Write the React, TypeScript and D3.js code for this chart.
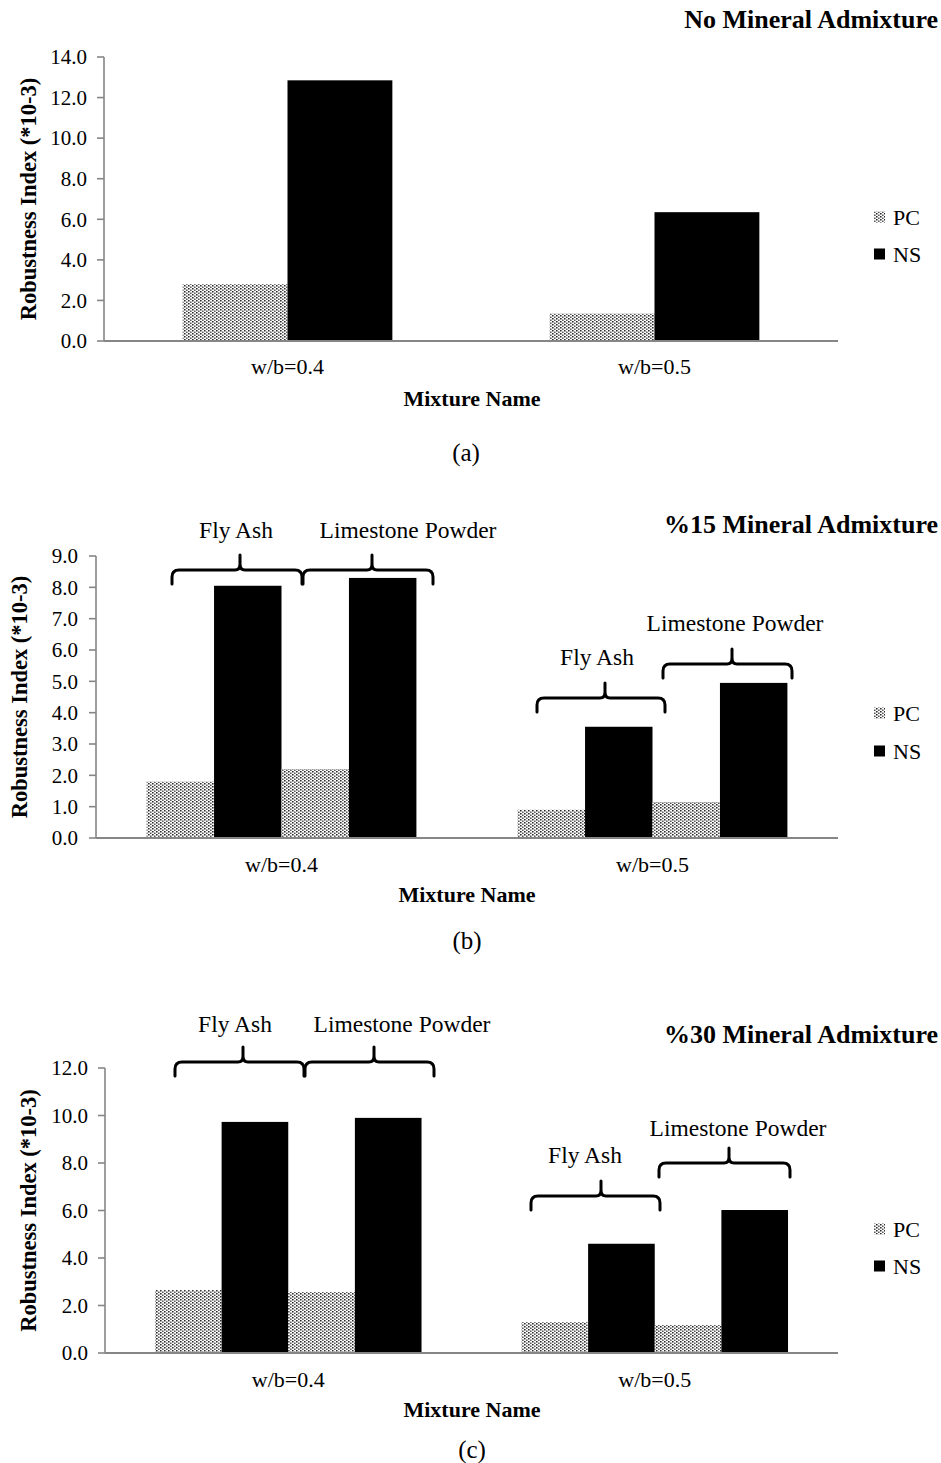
import React from "react";
import * as d3 from "d3";

// mixtures on the x axis
const groups = ["w/b=0.4", "w/b=0.5"];
const legendNames = ["PC", "NS"];

// (a) no mineral admixture
const pcA = [2.8, 1.35];
const nsA = [12.85, 6.35];
const ticksA = [0, 2, 4, 6, 8, 10, 12, 14];

// (b) 15% mineral admixture
const pcFlyAshB = [1.8, 0.9];
const nsFlyAshB = [8.05, 3.55];
const pcLimeB = [2.2, 1.15];
const nsLimeB = [8.3, 4.95];
const ticksB = [0, 1, 2, 3, 4, 5, 6, 7, 8, 9];

// (c) 30% mineral admixture
const pcFlyAshC = [2.65, 1.3];
const nsFlyAshC = [9.73, 4.6];
const pcLimeC = [2.57, 1.18];
const nsLimeC = [9.9, 6.02];
const ticksC = [0, 2, 4, 6, 8, 10, 12];

const FONT = "'Liberation Serif', 'Times New Roman', serif";
const AXIS = "#868686";

type Series = { key: string; kind: string; values: number[] };
type Brace = { x0: number; x1: number; tip: number; y: number; label: string; lx: number; ly: number };

function bracePath(b: Brace) {
  const d = 14;
  const r = 7;
  return [
    `M${b.x0},${b.y + d}`,
    `L${b.x0},${b.y + r}`,
    `Q${b.x0},${b.y} ${b.x0 + r},${b.y}`,
    `L${b.tip - 5},${b.y}`,
    `Q${b.tip},${b.y} ${b.tip},${b.y - 6}`,
    `L${b.tip},${b.y - 15}`,
    `M${b.tip},${b.y - 6}`,
    `Q${b.tip},${b.y} ${b.tip + 5},${b.y}`,
    `L${b.x1 - r},${b.y}`,
    `Q${b.x1},${b.y} ${b.x1},${b.y + r}`,
    `L${b.x1},${b.y + d}`,
  ].join(" ");
}

function Panel(props: {
  left: number; right: number; top: number; bottom: number;
  ticks: number[]; series: Series[]; title: string; titleY: number;
  letter: string; letterX: number; letterY: number;
  xLabelY: number; nameX: number; nameY: number;
  legendY: number[]; labelRight: number; yTitleX: number;
  braces: Brace[];
}) {
  const { left, right, top, bottom, ticks, series } = props;
  const yMax = ticks[ticks.length - 1];
  const y = d3.scaleLinear().domain([0, yMax]).range([bottom, top]);
  const x = d3.scaleBand<string>().domain(groups).range([left, right]).padding(0);
  const sub = d3
    .scaleBand<string>()
    .domain(series.map((s) => s.key))
    .range([0, x.bandwidth()])
    .paddingInner(0)
    .paddingOuter(0.75);
  const fmt = d3.format(".1f");

  return (
    <g>
      <text x={938} y={props.titleY} textAnchor="end" fontSize={26} fontWeight="bold" fontFamily={FONT}>
        {props.title}
      </text>
      {/* bars */}
      {groups.map((g, gi) =>
        series.map((s) => (
          <rect
            key={g + s.key}
            x={(x(g) as number) + (sub(s.key) as number)}
            y={y(s.values[gi])}
            width={sub.bandwidth()}
            height={bottom - y(s.values[gi])}
            fill={s.kind === "PC" ? "url(#dots)" : "#000"}
          />
        ))
      )}
      {/* y axis */}
      <line x1={left} x2={left} y1={top} y2={bottom} stroke={AXIS} strokeWidth={1.6} />
      {ticks.map((t) => (
        <g key={t}>
          <line x1={left - 7} x2={left} y1={y(t)} y2={y(t)} stroke={AXIS} strokeWidth={1.6} />
          <text x={props.labelRight} y={y(t)} dy="0.35em" textAnchor="end" fontSize={21} fontFamily={FONT}>
            {fmt(t)}
          </text>
        </g>
      ))}
      <line x1={left} x2={right} y1={bottom} y2={bottom} stroke={AXIS} strokeWidth={1.8} />
      {groups.map((g) => (
        <text
          key={g}
          x={(x(g) as number) + x.bandwidth() / 2}
          y={props.xLabelY}
          textAnchor="middle"
          fontSize={22}
          fontFamily={FONT}
        >
          {g}
        </text>
      ))}
      <text x={props.nameX} y={props.nameY} textAnchor="middle" fontSize={22} fontWeight="bold" fontFamily={FONT}>
        Mixture Name
      </text>
      <text
        transform={`translate(${props.yTitleX},${(top + bottom) / 2}) rotate(-90)`}
        textAnchor="middle"
        fontSize={22.5}
        fontWeight="bold"
        fontFamily={FONT}
      >
        Robustness Index (*10-3)
      </text>
      {/* legend */}
      {legendNames.map((n, i) => (
        <g key={n}>
          <rect
            x={874}
            y={props.legendY[i] - 5.5}
            width={11}
            height={11}
            fill={n === "PC" ? "url(#dots)" : "#000"}
          />
          <text x={893} y={props.legendY[i]} dy="0.35em" fontSize={22} fontFamily={FONT}>
            {n}
          </text>
        </g>
      ))}
      {/* braces */}
      {props.braces.map((b, i) => (
        <g key={i}>
          <path d={bracePath(b)} fill="none" stroke="#000" strokeWidth={3} strokeLinecap="round" />
          <text x={b.lx} y={b.ly} textAnchor="middle" fontSize={23.5} fontFamily={FONT}>
            {b.label}
          </text>
        </g>
      ))}
      <text x={props.letterX} y={props.letterY} textAnchor="middle" fontSize={25} fontFamily={FONT}>
        {props.letter}
      </text>
    </g>
  );
}

export default function App() {
  const seriesA: Series[] = [
    { key: "PC", kind: "PC", values: pcA },
    { key: "NS", kind: "NS", values: nsA },
  ];
  const seriesB: Series[] = [
    { key: "FA-PC", kind: "PC", values: pcFlyAshB },
    { key: "FA-NS", kind: "NS", values: nsFlyAshB },
    { key: "LS-PC", kind: "PC", values: pcLimeB },
    { key: "LS-NS", kind: "NS", values: nsLimeB },
  ];
  const seriesC: Series[] = [
    { key: "FA-PC", kind: "PC", values: pcFlyAshC },
    { key: "FA-NS", kind: "NS", values: nsFlyAshC },
    { key: "LS-PC", kind: "PC", values: pcLimeC },
    { key: "LS-NS", kind: "NS", values: nsLimeC },
  ];
  const bracesB: Brace[] = [
    { x0: 172, x1: 302, tip: 240, y: 570, label: "Fly Ash", lx: 236, ly: 538 },
    { x0: 303, x1: 433, tip: 372, y: 570, label: "Limestone Powder", lx: 408, ly: 538 },
    { x0: 537, x1: 665, tip: 605, y: 698, label: "Fly Ash", lx: 597, ly: 665 },
    { x0: 663, x1: 792, tip: 732, y: 664, label: "Limestone Powder", lx: 735, ly: 631 },
  ];
  const bracesC: Brace[] = [
    { x0: 175, x1: 304, tip: 243, y: 1062, label: "Fly Ash", lx: 235, ly: 1032 },
    { x0: 305, x1: 434, tip: 374, y: 1062, label: "Limestone Powder", lx: 402, ly: 1032 },
    { x0: 531, x1: 660, tip: 601, y: 1196, label: "Fly Ash", lx: 585, ly: 1163 },
    { x0: 659, x1: 790, tip: 729, y: 1163, label: "Limestone Powder", lx: 738, ly: 1136 },
  ];

  return (
    <svg
      width={941}
      height={1463}
      style={{ position: "absolute", left: 0, top: 0, background: "#fff" }}
    >
      <defs>
        <pattern id="dots" width={4} height={3} patternUnits="userSpaceOnUse">
          <rect width={4} height={3} fill="#fff" />
          <rect x={0} y={0} width={1.6} height={1.5} fill="#2a2a2a" />
          <rect x={2} y={1.5} width={1.6} height={1.5} fill="#5a5a5a" />
        </pattern>
      </defs>
      <rect width={941} height={1463} fill="#fff" />
      <Panel
        left={104} right={838} top={57} bottom={341}
        ticks={ticksA} series={seriesA}
        title="No Mineral Admixture" titleY={28}
        letter="(a)" letterX={466} letterY={461}
        xLabelY={374} nameX={472} nameY={406}
        legendY={[217, 254]} labelRight={87} yTitleX={36}
        braces={[]}
      />
      <Panel
        left={96} right={838} top={556} bottom={838}
        ticks={ticksB} series={seriesB}
        title="%15 Mineral Admixture" titleY={533}
        letter="(b)" letterX={467} letterY={949}
        xLabelY={872} nameX={467} nameY={902}
        legendY={[713, 751]} labelRight={78} yTitleX={27}
        braces={bracesB}
      />
      <Panel
        left={105} right={838} top={1068} bottom={1353}
        ticks={ticksC} series={seriesC}
        title="%30 Mineral Admixture" titleY={1043}
        letter="(c)" letterX={472} letterY={1458}
        xLabelY={1387} nameX={472} nameY={1417}
        legendY={[1229, 1266]} labelRight={88} yTitleX={36}
        braces={bracesC}
      />
    </svg>
  );
}
